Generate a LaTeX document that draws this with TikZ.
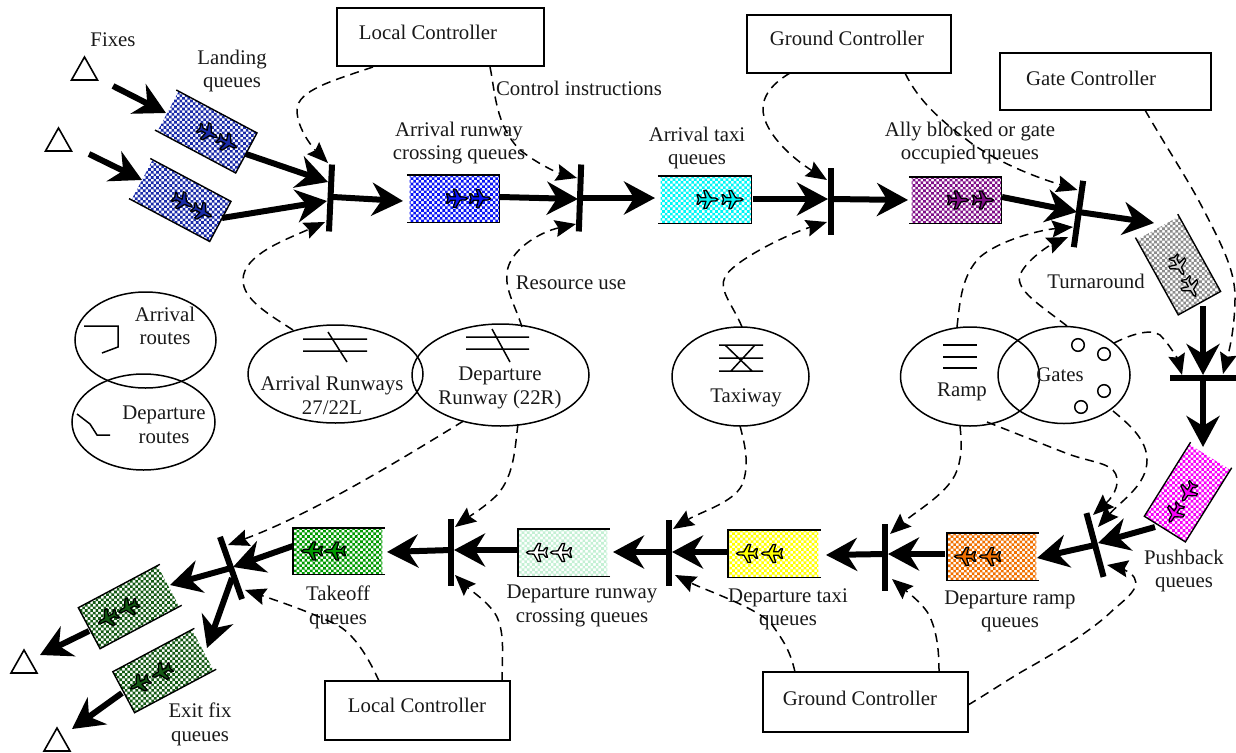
\documentclass[tikz,border=0pt]{standalone}
\usepackage{fontspec}
\setmainfont{Liberation Serif}
\usetikzlibrary{arrows.meta,calc,shapes.geometric}
\definecolor{qblueA}{HTML}{1A2BA8}
\definecolor{qblueB}{HTML}{0A14F5}
\definecolor{qcyan}{HTML}{00F5F5}
\definecolor{qpurple}{HTML}{800F88}
\definecolor{qgray}{HTML}{8C8C8C}
\definecolor{qmag}{HTML}{F800F8}
\definecolor{qorange}{HTML}{F07000}
\definecolor{qyellow}{HTML}{FFFF00}
\definecolor{qpale}{HTML}{C4F0D4}
\definecolor{qgreen}{HTML}{009A00}
\definecolor{qdark}{HTML}{145A14}
\tikzset{
  lbl/.style={font=\fontsize{20.8}{23.6}\selectfont,align=center,inner sep=0pt,text=black!90},
  ctrl/.style={draw,line width=1.9pt,rectangle,inner sep=0pt},
  res/.style={draw,line width=1.5pt,ellipse,inner sep=0pt},
  qbox/.style={rectangle,inner sep=0pt},
  qline/.style={line width=1.4pt},
  barnode/.style={fill=black,rectangle,inner sep=0pt,minimum height=6pt},
  dc/.style={line width=1.5pt,dash pattern=on 9pt off 6pt,-{Stealth[length=21pt,width=17pt,inset=3pt]}},
  bc/.style={line width=6pt,-{Stealth[length=31pt,width=33pt,inset=10pt]}},
  icon/.style={line width=1.5pt},
  tri/.style={line width=1.6pt,line join=miter}
}
% plane: local origin, nose along +x
\newcommand\qplane[2]{%
  \begin{scope}[xshift=#1pt,scale=1.05]
  \filldraw[draw=black,fill=#2,line width=1.3pt,line join=round]
   (10,0)--(8,1.3)--(3,1.6)--(-1,8.5)--(-3.5,8.5)--(-1.5,1.6)--(-6,1.6)--(-8.5,4.5)--(-10,4.5)--(-8.5,0)
   --(-10,-4.5)--(-8.5,-4.5)--(-6,-1.6)--(-1.5,-1.6)--(-3.5,-8.5)--(-1,-8.5)--(3,-1.6)--(8,-1.3)--cycle;
  \end{scope}}
% \queue{name}{cx}{cy}{angle}{w}{h}{colour}{plane colour}{p1}{p2}
\newcommand\queue[9]{%
  \node[qbox,rotate=#4,minimum width=#5pt,minimum height=#6pt] (#1) at (#2,#3) {};
  \begin{scope}
   \clip ($(#1.north west)!0.03!(#1.north east)$)--(#1.north east)--(#1.south east)--($(#1.south west)!0.03!(#1.south east)$)--cycle;
   \fill[#7] \foreach \i in {-11,...,10}{\foreach \j in {-11,...,10}{
     ({#2+\i*5.3},{#3+\j*5.3}) rectangle +(2.65,2.65)
     ({#2+\i*5.3+2.65},{#3+\j*5.3+2.65}) rectangle +(2.65,2.65)}};
  \end{scope}
  \draw[qline] (#1.north west)--(#1.north east)--(#1.south east)--(#1.south west);
  \def\qpb{#2}\def\qpc{#3}\def\qpd{#4}\def\qpe{#8}\def\qpf{#9}\queueend}
\newcommand\queueend[1]{%
  \begin{scope}[shift={(\qpb,\qpc)},rotate=\qpd]
   \qplane{\qpf}{\qpe}\qplane{#1}{\qpe}
  \end{scope}}
\newcommand\dconn[7]{\draw[dc] ($(#1)+(#2,#3)$) #4 ($(#5)+(#6,#7)$);}
\newcommand\bconn[6]{\draw[bc] ($(#1)+(#2,#3)$) -- ($(#4)+(#5,#6)$);}
\newcommand\fixtri[3]{\draw[tri] (#2,#3)--({#2-13},{#3+23})--({#2+13},{#3+23})--cycle; \coordinate (#1) at (#2,{#3+15});}
\begin{document}
\begin{tikzpicture}[x=1pt,y=-1pt]
\useasboundingbox (0,0) rectangle (1236,752);
% triangles
\fixtri{fixA}{84.5}{57}
\fixtri{fixB}{58.5}{128}
\fixtri{fixC}{24}{650}
\fixtri{fixD}{57}{728}
% queues
\queue{qLandA}{206}{131.5}{-28}{91}{45}{qblueA}{qblueA}{2}{24}
\queue{qLandB}{180}{200}{-28}{91}{45}{qblueA}{qblueA}{3}{25}
\queue{qArrCross}{453}{198.5}{0}{92}{47}{qblueB}{qblueB}{4}{27}
\queue{qArrTaxi}{704.5}{199.5}{0}{93}{47}{qcyan}{qcyan}{3}{28}
\queue{qAlly}{955}{200}{0}{92}{46}{qpurple}{qpurple}{3}{28}
\queue{qTurn}{1178}{264.5}{-61}{88}{48}{qgray}{qgray!40}{1}{26}
\queue{qPush}{1188}{492}{-122}{87}{48}{qmag}{qmag}{0}{25}
\queue{qRamp}{993}{556.5}{180}{92}{47}{qorange}{qorange}{3}{28}
\queue{qTaxi}{774.5}{553.5}{180}{93}{47}{qyellow}{qyellow}{2.5}{27.5}
\queue{qRun}{564}{552.5}{180}{92}{47}{qpale}{white}{3}{27}
\queue{qTake}{339}{551}{180}{92}{46}{qgreen}{qgreen}{4}{27}
\queue{qExA}{130}{606.5}{-152}{92}{46}{qdark}{qdark}{2}{25}
\queue{qExB}{164.5}{670.5}{-152}{92}{46}{qdark}{qdark}{3}{28}
% transitions
\node[barnode,rotate=87.4,minimum width=67pt] (barA) at (330.5,198) {};
\node[barnode,rotate=88,minimum width=67pt] (barB) at (580,198) {};
\node[barnode,rotate=90,minimum width=67pt] (barC) at (831,201.5) {};
\node[barnode,rotate=82,minimum width=67pt] (barD) at (1078.5,214) {};
\node[barnode,minimum width=66pt] (barE) at (1203,378) {};
\node[barnode,rotate=-75,minimum width=66pt] (barF) at (1095,545) {};
\node[barnode,rotate=90,minimum width=67pt] (barG) at (885,557.5) {};
\node[barnode,rotate=90,minimum width=66pt] (barH) at (669,553) {};
\node[barnode,rotate=90,minimum width=67pt] (barI) at (451,552.5) {};
\node[barnode,rotate=-70.5,minimum width=66pt] (barJ) at (231,568) {};
% controllers
\node[ctrl,minimum width=207pt,minimum height=58pt] (lcA) at (440.5,37) {};
\node[lbl] (lcAt) at (428,32) {Local Controller};
\node[ctrl,minimum width=204pt,minimum height=58pt] (gcA) at (849,44) {};
\node[lbl] (gcAt) at (847,38) {Ground Controller};
\node[ctrl,minimum width=211pt,minimum height=57pt] (gate) at (1105.5,81.5) {};
\node[lbl] (gatet) at (1091,78) {Gate Controller};
\node[ctrl,minimum width=185pt,minimum height=59pt] (lcB) at (417.5,710.5) {};
\node[lbl] (lcBt) at (417,705) {Local Controller};
\node[ctrl,minimum width=205pt,minimum height=60pt] (gcB) at (865.5,702) {};
\node[lbl] (gcBt) at (860,698) {Ground Controller};
% resources
\node[res,minimum width=141pt,minimum height=96pt] (arrR) at (145.5,340) {};
\node[res,minimum width=143pt,minimum height=96pt] (depR) at (143.5,422) {};
\node[res,minimum width=175pt,minimum height=98pt] (arrRwy) at (335.5,374) {};
\node[res,minimum width=177pt,minimum height=102pt] (depRwy) at (500.5,375) {};
\node[res,minimum width=137pt,minimum height=99pt] (taxi) at (740.5,376.5) {};
\node[res,minimum width=139pt,minimum height=99pt] (ramp) at (970,376.5) {};
\node[res,minimum width=132pt,minimum height=97pt] (gates) at (1064,375) {};
% icons
\draw[icon] (84,326)--(118,326)--(118,347)--(102,353);
\draw[icon] (77,414)--(90,424)--(97,435)--(110,435);
\draw[icon] (303,339)--(367,339) (303,351)--(367,351) (328,332)--(347,362);
\draw[icon] (466,337)--(529,337) (466,349)--(529,349) (492,329)--(510,362);
\draw[icon] (719,345)--(763,345) (719,358)--(763,358) (719,371)--(763,371) (725,345)--(752,371) (755,345)--(731,371);
\draw[icon] (943,345)--(977,345) (943,357)--(977,357) (943,368)--(977,368);
\draw[icon] (1078,345) circle (6.3) (1104,354) circle (6.3) (1104,391) circle (6.3) (1081,407) circle (6.3);
% labels
\node[lbl] (tFix) at (113,40) {Fixes};
\node[lbl] (tLand) at (232,71) {Landing\\queues};
\node[lbl] (tCtl) at (579,88) {Control instructions};
\node[lbl] (tArrC) at (459,143) {Arrival runway\\crossing queues};
\node[lbl] (tArrT) at (697,148) {Arrival taxi\\queues};
\node[lbl] (tAlly) at (970,143) {Ally blocked or gate\\occupied queues};
\node[lbl] (tTurn) at (1096,281) {Turnaround};
\node[lbl] (tRes) at (571,283) {Resource use};
\node[lbl] (tArrR) at (165,326) {Arrival\\routes};
\node[lbl] (tDepR) at (164,425) {Departure\\routes};
\node[lbl] (tArrW) at (332,395.5) {Arrival Runways\\27/22L};
\node[lbl] (tDepW) at (500,388) {Departure\\Runway (22R)};
\node[lbl] (tTaxi) at (746,398) {Taxiway};
\node[lbl] (tRamp) at (962,392) {Ramp};
\node[lbl] (tGates) at (1060,375) {Gates};
\node[lbl] (tPush) at (1184,571) {Pushback\\queues};
\node[lbl] (tDRamp) at (1010,611.5) {Departure ramp\\queues};
\node[lbl] (tDTaxi) at (788,609.5) {Departure taxi\\queues};
\node[lbl] (tDRun) at (582,606) {Departure runway\\crossing queues};
\node[lbl] (tTake) at (338,607.5) {Takeoff\\queues};
\node[lbl] (tExit) at (200,724.5) {Exit fix\\queues};
% flow arrows
\bconn{fixA}{28.5}{14}{qLandA}{-40}{-18.5}
\bconn{fixB}{30.5}{11}{qLandB}{-38}{-20}
\bconn{qLandA}{40}{22.5}{barA}{-2.5}{-16}
\bconn{qLandB}{42}{18}{barA}{-3.5}{3}
\bconn{barA}{2.5}{-1}{qArrCross}{-50}{2.5}
\bconn{qArrCross}{47}{-1.5}{barB}{-2}{1}
\bconn{barB}{0}{0}{qArrTaxi}{-49.5}{-1.5}
\bconn{qArrTaxi}{48.5}{-0.5}{barC}{-3}{-2.5}
\bconn{barC}{0}{-2.5}{qAlly}{-47}{0}
\bconn{qAlly}{47}{-3}{barD}{-1.5}{-2}
\bconn{barD}{0}{-2}{qTurn}{-24}{-41.5}
\bconn{qTurn}{25}{41.5}{barE}{0}{-3}
\bconn{barE}{0}{0}{qPush}{15}{-45}
\bconn{qPush}{-33}{35}{barF}{3}{-2}
\bconn{barF}{0}{0}{qRamp}{44}{1.5}
\bconn{qRamp}{-48}{-2.5}{barG}{3}{-3.5}
\bconn{barG}{0}{-3.5}{qTaxi}{51.5}{1.5}
\bconn{qTaxi}{-46.5}{-1.5}{barH}{3}{-1}
\bconn{barH}{0}{-1}{qRun}{49}{-0.5}
\bconn{qRun}{-46}{-2.5}{barI}{3}{-2.5}
\bconn{barI}{0}{-2.5}{qTake}{48}{1}
\bconn{qTake}{-46}{-5}{barJ}{2}{-1}
\bconn{barJ}{0}{0}{qExA}{40}{-21.5}
\bconn{barJ}{1}{10}{qExB}{42.5}{-22.5}
\bconn{qExA}{-41}{24.5}{fixC}{16}{-10}
\bconn{qExB}{-42.5}{22.5}{fixD}{15}{-14}
% control and resource arcs
\dconn{lcA}{-67.5}{30}{.. controls (335,80) and (297,90) .. (297,110) .. controls (297,130) and (315,150) ..}{barA}{-2.5}{-35}
\dconn{lcA}{49.5}{30}{.. controls (495,90) and (495,125) .. (520,150) .. controls (535,162) and (555,172) ..}{barB}{-3}{-20}
\dconn{gcA}{-59}{29}{.. controls (770,85) and (758,100) .. (765,120) .. controls (772,140) and (795,160) ..}{barC}{-4}{-21.5}
\dconn{gcA}{56}{29}{.. controls (918,100) and (940,120) .. (967,140) .. controls (1000,165) and (1045,180) ..}{barD}{-1}{-24}
\dconn{gate}{39.5}{28.5}{.. controls (1165,145) and (1185,175) .. (1200,203) .. controls (1222,245) and (1235,270) .. (1235,297) .. controls (1235,330) and (1228,355) ..}{barE}{20}{-4}
\dconn{arrRwy}{-42.5}{-44}{.. controls (270,315) and (243,300) .. (243,280) .. controls (243,255) and (285,240) ..}{barA}{-5.5}{24}
\dconn{depRwy}{21.5}{-48}{.. controls (515,305) and (505,290) .. (507,273) .. controls (509,250) and (540,232) ..}{barB}{-4}{26}
\dconn{taxi}{1.5}{-49.5}{.. controls (733,305) and (718,290) .. (725,277) .. controls (732,262) and (785,235) ..}{barC}{-4}{20.5}
\dconn{ramp}{-13}{-49.5}{.. controls (960,300) and (962,275) .. (980,257) .. controls (1000,240) and (1040,230) ..}{barD}{-5.5}{13}
\dconn{gates}{3}{-49}{.. controls (1040,305) and (1015,290) .. (1020,275) .. controls (1026,260) and (1050,245) ..}{barD}{-10.5}{23}
\dconn{gates}{50}{-32}{.. controls (1130,335) and (1150,328) .. (1160,335) .. controls (1170,345) and (1178,360) ..}{barE}{-21}{-3}
\dconn{gates}{49}{36}{.. controls (1130,425) and (1147,440) .. (1147,460) .. controls (1147,485) and (1122,500) ..}{barF}{3}{-18}
\dconn{ramp}{17}{45.5}{.. controls (1015,433) and (1040,443) .. (1063,452) .. controls (1085,461) and (1105,462) .. (1113,470) .. controls (1122,480) and (1115,495) ..}{barF}{-2}{-30}
\dconn{ramp}{-10}{49.5}{.. controls (962,445) and (962,460) .. (955,475) .. controls (945,495) and (915,512) ..}{barG}{5}{-23.5}
\dconn{taxi}{-0.5}{49.5}{.. controls (745,445) and (750,465) .. (742,485) .. controls (733,503) and (700,512) ..}{barH}{4}{-24}
\dconn{depRwy}{17.5}{49}{.. controls (515,445) and (515,475) .. (497,495) .. controls (485,507) and (470,516) ..}{barI}{4}{-25.5}
\dconn{depRwy}{-37}{46}{.. controls (400,460) and (310,515) ..}{barJ}{-3}{-23}
\dconn{lcB}{-38.5}{-29.5}{.. controls (365,650) and (350,630) .. (333,623) .. controls (305,610) and (275,600) ..}{barJ}{14}{22}
\dconn{lcB}{84.5}{-29.5}{.. controls (502,655) and (505,635) .. (497,617) .. controls (490,603) and (470,590) ..}{barI}{4}{22.5}
\dconn{gcB}{-70.5}{-30}{.. controls (790,650) and (783,640) .. (770,622) .. controls (750,605) and (705,590) ..}{barH}{6}{22}
\dconn{gcB}{73.5}{-30}{.. controls (939,655) and (938,635) .. (930,617) .. controls (925,605) and (905,590) ..}{barG}{7}{21.5}
\dconn{gcB}{102.5}{3}{.. controls (990,692) and (1010,678) .. (1030,667) .. controls (1060,650) and (1095,628) .. (1113,610) .. controls (1128,597) and (1145,585) .. (1130,573) .. controls (1125,570) and (1118,567) ..}{barF}{12}{20}
\end{tikzpicture}
\end{document}
